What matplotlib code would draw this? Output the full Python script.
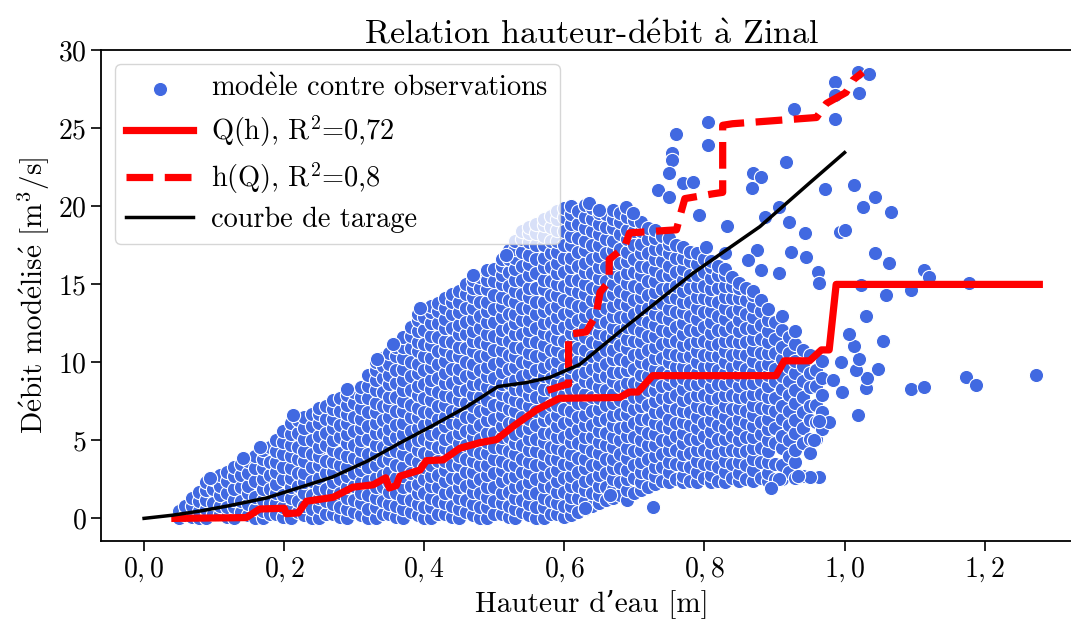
import matplotlib
matplotlib.use("Agg")
import matplotlib.pyplot as plt

plt.rcParams['font.family'] = ['cmr10', 'DejaVu Serif']
plt.rcParams['mathtext.fontset'] = 'cm'
plt.rcParams['axes.formatter.use_mathtext'] = True
plt.rcParams['axes.unicode_minus'] = False

# nuage dense : (hauteur, "débits ...") lus colonne par colonne
cloud_cols = [
    (0.050, "0.0 0.5"),
    (0.068, "0.1 0.8 1.3"),
    (0.089, "0.0 0.6 1.2 1.8 2.3"),
    (0.108, "0.3 0.8 1.5 2.1 2.8"),
    (0.129, "0.0 0.7 1.2 1.9 2.7 3.3"),
    (0.148, "0.2 0.9 1.6 2.1 2.9 3.7"),
    (0.170, "0.0 0.5 1.2 1.9 2.5 3.2 3.8 4.4"),
    (0.189, "0.3 1.0 1.6 2.2 3.0 3.6 4.3 5.0"),
    (0.210, "0.0 0.6 1.3 2.0 2.6 3.2 4.0 4.7 5.4 6.1"),
    (0.229, "0.2 0.8 1.6 2.3 2.9 3.7 4.3 5.1 5.8 6.5"),
    (0.250, "0.0 0.7 1.3 1.9 2.6 3.4 4.0 4.6 5.3 6.1 6.7 7.1"),
    (0.270, "0.3 0.9 1.7 2.3 3.0 3.6 4.4 5.0 5.8 6.4 7.0 7.6"),
    (0.289, "0.0 0.6 1.3 2.0 2.7 3.3 4.0 4.8 5.4 6.1 6.7 7.3 7.9"),
    (0.310, "0.2 1.0 1.6 2.3 3.1 3.7 4.4 5.0 5.8 6.4 7.1 7.8 8.4"),
    (0.331, "0.0 0.7 1.3 2.0 2.6 3.4 4.1 4.7 5.5 6.1 6.8 7.4 8.2 8.9 9.5 10.0"),
    (0.350, "0.3 0.9 1.7 2.3 3.0 3.8 4.4 5.1 5.7 6.5 7.2 7.8 8.6 9.2 9.9 10.6"),
    (0.370, "0.0 0.6 1.3 2.0 2.7 3.3 4.1 4.8 5.4 6.1 6.9 7.5 8.2 8.9 9.6 10.3 11.0 11.6"),
    (0.391, "0.2 0.9 1.6 2.2 3.0 3.6 4.4 5.0 5.8 6.5 7.1 7.9 8.5 9.3 9.9 10.7 11.3 12.0 12.7 13.1"),
    (0.410, "0.0 0.7 1.3 2.1 2.7 3.4 4.1 4.8 5.4 6.2 6.8 7.6 8.3 8.9 9.7 10.3 11.1 11.7 12.5 13.2 13.6"),
    (0.430, "0.3 1.0 1.6 2.4 3.1 3.7 4.5 5.1 5.9 6.5 7.3 7.9 8.7 9.3 10.1 10.8 11.4 12.2 12.8 13.5 14.1"),
    (0.449, "0.0 0.6 1.3 2.0 2.6 3.4 4.0 4.8 5.5 6.1 6.9 7.6 8.2 9.0 9.6 10.4 11.0 11.8 12.4 13.2 13.9 14.6"),
    (0.470, "0.2 0.9 1.7 2.3 3.0 3.7 4.4 5.2 5.8 6.5 7.2 7.9 8.6 9.3 9.9 10.7 11.4 12.0 12.8 13.5 14.2 14.8 15.3"),
    (0.490, "0.0 0.7 1.4 2.0 2.8 3.4 4.2 4.9 5.5 6.3 7.0 7.6 8.4 9.1 9.7 10.5 11.2 11.8 12.6 13.3 13.9 14.7 15.3 15.9"),
    (0.511, "0.3 1.0 1.6 2.4 3.1 3.7 4.5 5.2 5.9 6.6 7.3 8.0 8.6 9.4 10.1 10.8 11.5 12.1 12.9 13.6 14.2 15.0 15.6 16.2 16.6"),
    (0.530, "0.0 0.6 1.3 2.0 2.7 3.4 4.1 4.8 5.4 6.2 6.9 7.6 8.3 8.9 9.7 10.4 11.0 11.8 12.5 13.1 13.9 14.6 15.3 16.0 16.7 17.3 17.8"),
    (0.550, "0.2 0.9 1.6 2.3 3.0 3.6 4.4 5.1 5.8 6.4 7.2 7.9 8.5 9.3 10.0 10.6 11.4 12.1 12.7 13.5 14.2 14.8 15.6 16.3 16.9 17.7 18.3 18.7"),
    (0.571, "0.0 0.7 1.3 2.1 2.7 3.5 4.1 4.9 5.5 6.3 6.9 7.7 8.3 9.1 9.7 10.5 11.1 11.9 12.5 13.3 13.9 14.7 15.3 16.1 16.7 17.5 18.1 18.8 19.2"),
    (0.590, "0.3 1.0 1.7 2.4 3.1 3.8 4.5 5.2 5.9 6.6 7.3 8.0 8.7 9.4 10.1 10.8 11.5 12.2 12.9 13.6 14.3 15.0 15.7 16.4 17.1 17.8 18.5 19.2 19.7"),
    (0.610, "0.2 0.8 1.4 2.1 2.7 3.5 4.1 4.9 5.5 6.3 6.9 7.7 8.3 9.1 9.7 10.5 11.1 11.9 12.5 13.3 13.9 14.7 15.3 16.1 16.7 17.5 18.1 18.9 19.5 20.0"),
    (0.629, "0.6 1.1 1.8 2.4 3.2 3.8 4.6 5.2 6.0 6.6 7.4 8.0 8.8 9.4 10.2 10.8 11.6 12.2 13.0 13.6 14.4 15.0 15.8 16.4 17.2 17.8 18.6 19.3 20.1"),
    (0.650, "1.0 1.5 2.1 2.8 3.5 4.2 4.9 5.6 6.3 7.0 7.7 8.4 9.1 9.8 10.5 11.2 11.9 12.6 13.3 14.0 14.7 15.4 16.1 16.8 17.5 18.2 18.9 19.6"),
    (0.670, "1.3 1.9 2.5 3.2 3.8 4.6 5.2 6.0 6.6 7.4 8.0 8.8 9.4 10.2 10.8 11.6 12.2 13.0 13.6 14.4 15.0 15.8 16.4 17.2 17.8 18.6 19.2 19.8"),
    (0.689, "1.2 1.8 2.5 3.1 3.9 4.5 5.3 5.9 6.7 7.3 8.1 8.7 9.5 10.1 10.9 11.5 12.3 12.9 13.7 14.3 15.1 15.7 16.5 17.1 17.9 18.5 19.3"),
    (0.710, "1.8 2.3 3.0 3.6 4.4 5.0 5.8 6.4 7.2 7.8 8.6 9.2 10.0 10.6 11.4 12.0 12.8 13.4 14.2 14.8 15.6 16.2 17.0 17.6 18.4 19.0"),
    (0.730, "2.2 2.7 3.3 4.0 4.7 5.4 6.1 6.8 7.5 8.2 8.9 9.6 10.3 11.0 11.7 12.4 13.1 13.8 14.5 15.2 15.9 16.6 17.3 18.0 18.5"),
    (0.749, "2.3 3.0 3.6 4.4 5.0 5.8 6.4 7.2 7.8 8.6 9.2 10.0 10.6 11.4 12.0 12.8 13.4 14.2 14.8 15.6 16.2 17.0 17.6 18.0"),
    (0.770, "2.3 2.7 3.4 4.1 4.8 5.5 6.2 6.9 7.6 8.3 9.0 9.7 10.4 11.1 11.8 12.5 13.2 13.9 14.6 15.3 16.0 16.7 17.4"),
    (0.790, "2.3 3.0 3.7 4.4 5.1 5.8 6.5 7.2 7.9 8.6 9.3 10.0 10.7 11.4 12.1 12.8 13.5 14.2 14.9 15.6 16.3 17.0"),
    (0.809, "2.3 2.8 3.5 4.2 4.9 5.6 6.3 7.0 7.7 8.4 9.1 9.8 10.5 11.2 11.9 12.6 13.3 14.0 14.7 15.4 16.1 16.5"),
    (0.830, "2.3 3.0 3.7 4.4 5.1 5.8 6.5 7.2 7.9 8.6 9.3 10.0 10.7 11.4 12.1 12.8 13.5 14.2 14.9 15.6 16.0"),
    (0.850, "2.4 2.9 3.6 4.3 5.0 5.7 6.4 7.1 7.8 8.5 9.2 9.9 10.6 11.3 12.0 12.7 13.4 14.1 14.8 15.1"),
    (0.869, "2.4 3.1 3.8 4.5 5.2 5.9 6.6 7.3 8.0 8.7 9.4 10.1 10.8 11.5 12.2 12.9 13.6 14.3 14.6"),
    (0.890, "2.4 2.9 3.6 4.3 5.0 5.7 6.4 7.1 7.8 8.5 9.2 9.9 10.6 11.3 12.0 12.7 13.4"),
    (0.910, "2.5 3.4 4.5 5.3 6.4 7.2 8.3 9.1 10.2 11.0 12.1 13.0"),
    (0.929, "2.6 3.6 4.4 5.5 6.3 7.4 8.2 9.3 10.1 11.2 12.0"),
    (0.950, "4.2 5.1 6.3 7.2 8.4 9.3 10.5"),
    (0.968, "5.7 6.8 7.9 9.0 10.1"),
]

# colonnes intermédiaires du nuage
cloud_cols2 = [
    (0.059, "0.2 0.8"),
    (0.078, "0.0 0.5 1.1 1.7"),
    (0.099, "0.3 1.0 1.9 2.5"),
    (0.118, "0.1 0.7 1.6 2.4 3.0"),
    (0.139, "0.4 1.1 2.0 2.8 3.5"),
    (0.158, "0.0 0.6 1.4 2.4 3.2 4.0"),
    (0.180, "0.3 1.0 1.9 2.8 3.6 4.6"),
    (0.199, "0.1 0.7 1.5 2.5 3.3 4.1 4.9 5.6"),
    (0.220, "0.4 1.1 2.1 2.9 3.8 4.6 5.5 6.3"),
    (0.240, "0.0 0.6 1.5 2.4 3.3 4.1 5.0 5.9 6.7"),
    (0.260, "0.3 1.1 1.9 2.9 3.7 4.7 5.5 6.4 7.2"),
    (0.280, "0.1 0.7 1.6 2.5 3.4 4.2 5.2 6.0 6.9 7.7"),
    (0.300, "0.4 1.2 2.1 2.9 3.9 4.7 5.6 6.5 7.4 8.1"),
    (0.320, "0.0 0.6 1.5 2.4 3.3 4.1 5.1 5.9 6.8 7.7 8.5 9.2"),
    (0.341, "0.3 1.1 2.0 2.8 3.7 4.6 5.5 6.3 7.2 8.1 9.0 9.8 10.3"),
    (0.360, "0.1 0.8 1.6 2.6 3.4 4.3 5.2 6.0 6.9 7.8 8.7 9.5 10.4 11.0"),
    (0.381, "0.4 1.2 2.1 2.9 3.8 4.7 5.6 6.5 7.3 8.2 9.1 10.0 10.9 11.7 12.3"),
    (0.400, "0.0 0.7 1.6 2.5 3.3 4.2 5.1 6.0 6.8 7.7 8.6 9.5 10.4 11.2 12.1 12.9"),
    (0.420, "0.3 1.1 2.0 2.8 3.7 4.6 5.5 6.4 7.2 8.1 9.0 9.9 10.7 11.6 12.5 13.3 13.8"),
    (0.440, "0.1 0.8 1.7 2.6 3.4 4.3 5.2 6.1 6.9 7.8 8.7 9.6 10.5 11.3 12.2 13.1 13.9 14.4"),
    (0.459, "0.4 1.2 2.1 3.0 3.8 4.7 5.6 6.5 7.4 8.2 9.1 10.0 10.9 11.8 12.6 13.5 14.4 15.0"),
    (0.480, "0.0 0.7 1.6 2.5 3.4 4.2 5.1 6.0 6.9 7.8 8.6 9.5 10.4 11.3 12.2 13.0 13.9 14.8 15.5"),
    (0.500, "0.3 1.1 2.0 2.9 3.8 4.6 5.5 6.4 7.3 8.2 9.0 9.9 10.8 11.7 12.6 13.4 14.3 15.2 16.0"),
    (0.521, "0.1 0.8 1.7 2.6 3.4 4.3 5.2 6.1 7.0 7.8 8.7 9.6 10.5 11.4 12.2 13.1 14.0 14.9 15.8 16.6 17.2"),
    (0.540, "0.4 1.2 2.1 3.0 3.8 4.7 5.6 6.5 7.4 8.2 9.1 10.0 10.9 11.8 12.7 13.5 14.4 15.3 16.2 17.1 17.9 18.4"),
    (0.560, "0.0 0.7 1.6 2.5 3.4 4.3 5.1 6.0 6.9 7.8 8.7 9.5 10.4 11.3 12.2 13.1 13.9 14.8 15.7 16.6 17.5 18.3 18.9"),
    (0.581, "0.3 1.1 2.0 2.9 3.8 4.6 5.5 6.4 7.3 8.2 9.0 9.9 10.8 11.7 12.6 13.4 14.3 15.2 16.1 17.0 17.8 18.7 19.4"),
    (0.600, "0.1 0.8 1.7 2.6 3.5 4.3 5.2 6.1 7.0 7.9 8.7 9.6 10.5 11.4 12.3 13.1 14.0 14.9 15.8 16.7 17.5 18.4 19.3 19.9"),
    (0.620, "0.4 1.3 2.1 3.0 3.9 4.8 5.7 6.5 7.4 8.3 9.2 10.1 10.9 11.8 12.7 13.6 14.5 15.3 16.2 17.1 18.0 18.9 19.7"),
    (0.640, "0.8 1.6 2.5 3.4 4.3 5.2 6.0 6.9 7.8 8.7 9.6 10.4 11.3 12.2 13.1 14.0 14.8 15.7 16.6 17.5 18.4 19.2 19.9"),
    (0.660, "1.2 2.0 2.9 3.8 4.7 5.5 6.4 7.3 8.2 9.1 9.9 10.8 11.7 12.6 13.5 14.3 15.2 16.1 17.0 17.9 18.7 19.5"),
    (0.680, "1.5 2.3 3.2 4.1 5.0 5.8 6.7 7.6 8.5 9.4 10.2 11.1 12.0 12.9 13.8 14.6 15.5 16.4 17.3 18.2 19.0 19.6"),
    (0.700, "1.6 2.6 3.4 4.3 5.2 6.1 7.0 7.8 8.7 9.6 10.5 11.4 12.2 13.1 14.0 14.9 15.8 16.6 17.5 18.4 19.1"),
    (0.720, "2.0 2.9 3.8 4.7 5.5 6.4 7.3 8.2 9.1 9.9 10.8 11.7 12.6 13.5 14.3 15.2 16.1 17.0 17.9 18.6"),
    (0.740, "2.4 3.3 4.1 5.0 5.9 6.8 7.7 8.5 9.4 10.3 11.2 12.1 12.9 13.8 14.7 15.6 16.5 17.3 18.1"),
    (0.760, "2.5 3.5 4.4 5.3 6.1 7.0 7.9 8.8 9.7 10.5 11.4 12.3 13.2 14.1 14.9 15.8 16.7 17.5"),
    (0.780, "2.4 3.3 4.2 5.1 6.0 6.8 7.7 8.6 9.5 10.4 11.2 12.1 13.0 13.9 14.8 15.6 16.5 17.1"),
    (0.800, "2.6 3.5 4.4 5.3 6.1 7.0 7.9 8.8 9.7 10.5 11.4 12.3 13.2 14.1 14.9 15.8 16.6"),
    (0.820, "2.4 3.3 4.2 5.1 6.0 6.8 7.7 8.6 9.5 10.4 11.2 12.1 13.0 13.9 14.8 15.6 16.2"),
    (0.840, "2.6 3.5 4.4 5.3 6.1 7.0 7.9 8.8 9.7 10.5 11.4 12.3 13.2 14.1 14.9 15.5"),
    (0.860, "2.5 3.4 4.3 5.2 6.1 6.9 7.8 8.7 9.6 10.5 11.3 12.2 13.1 14.0 14.8"),
    (0.880, "2.6 3.6 4.5 5.4 6.2 7.1 8.0 8.9 9.8 10.6 11.5 12.4 13.3 14.0"),
    (0.900, "2.5 3.5 4.8 5.8 6.9 7.7 8.8 9.6 10.6 11.5 12.6"),
    (0.920, "3.0 4.0 5.0 6.0 6.9 7.9 8.8 9.7 10.6 11.6"),
    (0.940, "2.7 4.8 5.8 6.8 7.8 8.8 9.8 10.8"),
    (0.959, "5.1 6.2 7.3 8.5 9.5"),
]

# points isolés
sparse_h = [1.019, 1.035, 0.987, 0.987, 1.020, 0.928, 0.987, 0.805, 0.805, 0.759,
            0.753, 0.753, 0.750, 0.769, 0.783, 0.917, 0.869, 0.881, 0.868, 0.972,
            1.014, 1.043, 1.027, 1.067, 0.635, 0.650, 0.688, 0.698, 0.733, 0.750,
            0.792, 0.832, 0.907, 0.886, 0.920, 0.943, 0.993, 1.000, 0.802, 0.829,
            0.875, 0.862, 0.924, 0.945, 1.043, 1.064, 0.881, 0.907, 0.962, 0.963,
            1.113, 1.121, 1.177, 1.023, 1.059, 1.095, 1.031, 1.055, 1.048, 1.030,
            1.032, 1.095, 1.114, 1.174, 1.187, 1.273, 1.019, 0.997, 1.017, 1.020,
            1.014, 1.007, 0.995, 0.983, 0.978, 0.964, 0.956, 0.964, 0.950, 0.933,
            0.907, 0.895, 0.726, 0.665, 0.629,
            0.094, 0.141, 0.213, 0.289, 0.332, 0.394, 0.469, 0.517, 0.165, 0.355]
sparse_q = [28.63, 28.47, 27.96, 27.14, 27.25, 26.24, 25.58, 25.39, 23.94, 24.64,
            23.40, 22.97, 22.12, 21.48, 21.58, 22.87, 22.12, 21.90, 21.20, 21.10,
            21.37, 20.60, 19.98, 19.62, 20.24, 19.77, 19.98, 19.57, 21.05, 20.60,
            19.45, 18.74, 19.98, 19.34, 19.02, 18.31, 18.38, 18.50, 17.42, 16.99,
            17.20, 16.56, 17.10, 16.78, 16.99, 16.39, 15.92, 15.71, 15.82, 15.07,
            15.92, 15.49, 15.07, 14.96, 14.32, 14.64, 12.97, 11.37, 9.56, 8.34,
            8.98, 8.28, 8.40, 9.04, 8.55, 9.19, 6.63, 8.12, 9.51, 10.20,
            11.05, 11.82, 10.05, 8.87, 6.16, 6.26, 5.03, 2.63, 2.63, 2.72,
            2.51, 1.93, 0.71, 1.50, 0.65,
            2.6, 3.9, 6.6, 8.3, 10.2, 13.5, 15.6, 16.9, 4.6, 11.2]

# Q(h)
qh_h = [0.044, 0.146, 0.165, 0.200, 0.203, 0.220, 0.232, 0.270, 0.298, 0.327, 0.345,
        0.350, 0.360, 0.365, 0.394, 0.403, 0.427, 0.451, 0.479, 0.503, 0.527, 0.560,
        0.593, 0.679, 0.693, 0.705, 0.726, 0.902, 0.914, 0.950, 0.967, 0.978, 0.988, 1.278]
qh_q = [0.0, 0.05, 0.6, 0.65, 0.3, 0.35, 1.1, 1.35, 2.0, 2.15, 2.6,
        1.95, 2.1, 2.7, 3.1, 3.7, 3.75, 4.5, 4.85, 5.05, 5.9, 6.95,
        7.7, 7.75, 8.1, 8.1, 9.15, 9.15, 10.1, 10.1, 10.8, 10.8, 15.0, 15.0]

# h(Q)
hq_h = [0.576, 0.600, 0.606, 0.606, 0.631, 0.645, 0.651, 0.664, 0.664, 0.686, 0.693,
        0.760, 0.767, 0.772, 0.811, 0.826, 0.826, 0.840, 0.960, 0.974, 1.002, 1.012, 1.026]
hq_q = [8.2, 8.55, 8.6, 11.8, 11.95, 13.0, 14.5, 15.2, 16.6, 17.4, 18.3,
        18.5, 19.7, 20.5, 20.8, 20.9, 25.2, 25.3, 25.7, 26.6, 27.3, 28.1, 28.6]

# courbe de tarage
ct_h = [0.0, 0.04, 0.08, 0.12, 0.175, 0.22, 0.269, 0.32, 0.365, 0.41, 0.46, 0.505,
        0.545, 0.579, 0.622, 0.688, 0.783, 0.879, 0.95, 1.0]
ct_q = [0.0, 0.2, 0.47, 0.8, 1.31, 1.95, 2.65, 3.7, 4.83, 5.9, 7.14, 8.45,
        8.7, 9.03, 9.87, 12.3, 15.7, 18.7, 21.5, 23.45]

xticks = [0.0, 0.2, 0.4, 0.6, 0.8, 1.0, 1.2]
xtick_labels = [r"$0,0$", r"$0,2$", r"$0,4$", r"$0,6$", r"$0,8$", r"$1,0$", r"$1,2$"]
yticks = [0, 5, 10, 15, 20, 25, 30]

pts_h, pts_q = [], []
for h, s in sorted(cloud_cols + cloud_cols2):
    for v in s.split():
        pts_h.append(h)
        pts_q.append(float(v))
pts_h += sparse_h
pts_q += sparse_q

fig = plt.figure(figsize=(10.71, 6.26), dpi=100)
ax = fig.add_axes([0.0943, 0.1363, 0.916, 0.7839])

ax.scatter(pts_h, pts_q, s=105, color='royalblue', edgecolor='white', linewidth=0.8,
           label=r"mod$\grave{\mathrm{e}}$le contre observations", zorder=2)
ax.plot(qh_h, qh_q, color='red', lw=5.2, label=r"Q(h), R$^2$=0,72", zorder=3)
ax.plot(hq_h, hq_q, color='red', lw=5.2, ls='--', label=r"h(Q), R$^2$=0,8", zorder=3)
ax.plot(ct_h, ct_q, color='black', lw=2.5, label="courbe de tarage", zorder=4)

ax.set_xlim(-0.0615, 1.339)
ax.set_ylim(-1.43, 30.03)
ax.set_xticks(xticks)
ax.set_xticklabels(xtick_labels)
ax.set_yticks(yticks)
ax.tick_params(labelsize=20, length=7, width=1.2)
for sp in ax.spines.values():
    sp.set_linewidth(1.3)

ax.set_xlabel("Hauteur d’eau [m]", fontsize=21)
ax.set_ylabel(r"D$\acute{\mathrm{e}}$bit mod$\acute{\mathrm{e}}$lis$\acute{\mathrm{e}}$ [m$^3$/s]", fontsize=21)
ax.set_title(r"Relation hauteur-d$\acute{\mathrm{e}}$bit $\grave{\mathrm{a}}$ Zinal", fontsize=24.5, pad=5)

ax.legend(loc='upper left', fontsize=20.4, handlelength=2.36, handletextpad=0.64,
          framealpha=0.8, edgecolor='0.8', labelspacing=0.38)

fig.savefig("out.png", dpi=100)
